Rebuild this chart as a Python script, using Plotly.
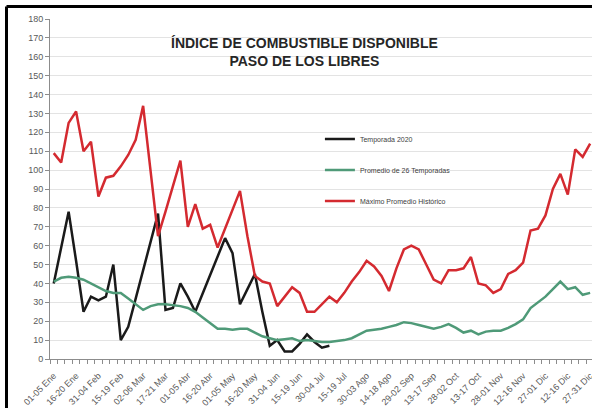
import plotly.graph_objects as go

# --- data ---
pentad_labels = ["01-05 Ene", "16-20 Ene", "31-04 Feb", "15-19 Feb", "02-06 Mar", "17-21 Mar",
                 "01-05 Abr", "16-20 Abr", "01-05 May", "16-20 May", "31-04 Jun", "15-19 Jun",
                 "30-04 Jul", "15-19 Jul", "30-03 Ago", "14-18 Ago", "29-02 Sep", "13-17 Sep",
                 "28-02 Oct", "13-17 Oct", "28-01 Nov", "12-16 Nov", "27-01 Dic", "12-16 Dic",
                 "27-31 Dic"]
n_pentads = 73
pentad_index = list(range(n_pentads))
label_index = pentad_index[::3]

temporada_2020 = [40, 59, 78, 52, 25, 33, 31, 33, 50, 10, 17, 32, 47, 62, 77, 26, 27, 40, 33, 25,
                  35, 45, 55, 64, 56, 29, 37, 45, 25, 7, 10, 4, 4, 8, 13, 9, 6, 7]

promedio_26 = [41, 43, 43.5, 43, 42, 40, 38, 36, 35, 35, 32, 29, 26, 28, 29, 29, 28.5, 28, 27, 25,
               22, 19, 16, 16, 15.5, 16, 16, 14, 12, 11, 10, 10.5, 11, 9.5, 10, 9.5, 9, 9, 9.5, 10,
               11, 13, 15, 15.5, 16, 17, 18, 19.5, 19, 18, 17, 16, 17, 18.5, 16.5, 14, 15, 13, 14.5, 15,
               15, 16.5, 18.5, 21, 27, 30, 33, 37, 41, 37, 38, 34, 35]

maximo_historico = [109, 104, 125, 131, 110, 115, 86, 96, 97, 102, 108, 116, 134, 100, 65, 78, 91, 105, 70, 82,
                    69, 71, 59, 69, 79, 89, 65, 44, 41, 40, 28, 33, 38, 35, 25, 25, 29, 33, 30, 35,
                    41, 46, 52, 49, 44, 36, 48, 58, 60, 58, 50, 42, 40, 47, 47, 48, 54, 40, 39, 35,
                    37, 45, 47, 51, 68, 69, 76, 90, 98, 87, 111, 107, 114]

y_ticks = list(range(0, 181, 10))

FONT = "Arial, Liberation Sans, sans-serif"

fig = go.Figure()
fig.add_trace(go.Scatter(x=pentad_index[:len(temporada_2020)], y=temporada_2020, mode="lines",
                         name="Temporada 2020", legendgroup="a",
                         line=dict(color="#1a1a1a", width=2.5)))
fig.add_trace(go.Scatter(x=pentad_index, y=promedio_26, mode="lines",
                         name="Promedio de 26 Temporadas", legendgroup="b",
                         line=dict(color="#4f9a78", width=2.5)))
fig.add_trace(go.Scatter(x=pentad_index, y=maximo_historico, mode="lines",
                         name="Máximo Promedio Histórico", legendgroup="c",
                         line=dict(color="#d42a30", width=2.5)))

left_px, top_px = 6.5, 6.5
fx = (left_px - 50) / 542
fy = 1 + (19 - top_px) / 340

fig.update_layout(
    width=592, height=408,
    margin=dict(l=50, r=0, t=19, b=49, autoexpand=False),
    paper_bgcolor="white", plot_bgcolor="white",
    font=dict(family=FONT, color="#595959"),
    showlegend=True,
    legend=dict(x=0.498, xanchor="left", y=0.69, yanchor="top",
                bgcolor="rgba(255,255,255,0)", font=dict(size=7, color="#404040"),
                tracegroupgap=12, traceorder="grouped"),
    annotations=[dict(text="<b>ÍNDICE DE COMBUSTIBLE DISPONIBLE<br>PASO DE LOS LIBRES</b>",
                      xref="paper", yref="paper", x=(304 - 50) / 542, y=(359 - 52) / 340,
                      xanchor="center", yanchor="middle", showarrow=False,
                      font=dict(size=14, color="#262626", family=FONT))],
    shapes=[
        dict(type="rect", xref="paper", yref="paper",
             x0=(327 - 50) / 542, x1=(470 - 50) / 542,
             y0=(359 - 215) / 340, y1=(359 - 105) / 340,
             fillcolor="white", line=dict(width=0), layer="between"),
        dict(type="line", xref="paper", yref="paper",
             x0=fx, x1=1.05, y0=fy, y1=fy,
             line=dict(color="black", width=3), layer="above"),
        dict(type="line", xref="paper", yref="paper",
             x0=fx, x1=fx, y0=fy, y1=-0.2,
             line=dict(color="black", width=3), layer="above"),
    ],
)

fig.update_xaxes(
    range=[-0.5, 72.25], tickmode="array", tickvals=label_index, ticktext=pentad_labels,
    tickangle=-45, ticks="", ticklabelstandoff=7, ticklabeloverflow="allow",
    showgrid=False, zeroline=False,
    showline=True, linecolor="#8c8c8c", linewidth=1,
    tickfont=dict(size=9, color="#595959"), automargin=False,
    minor=dict(tickmode="linear", tick0=-0.5, dtick=1, ticks="outside", ticklen=4,
               tickcolor="#8c8c8c", showgrid=False),
)
fig.update_yaxes(
    range=[0, 180], tickmode="array", tickvals=y_ticks, ticks="outside", ticklen=4,
    tickcolor="#8c8c8c", showgrid=True, gridcolor="#e3e3e3", gridwidth=1, zeroline=False,
    showline=True, linecolor="#8c8c8c", linewidth=1,
    tickfont=dict(size=9, color="#595959"), automargin=False,
)

fig.write_html(
    "out.html",
    config={"displayModeBar": False},
    post_script="document.body.style.margin='0';document.body.style.overflow='hidden';",
)
